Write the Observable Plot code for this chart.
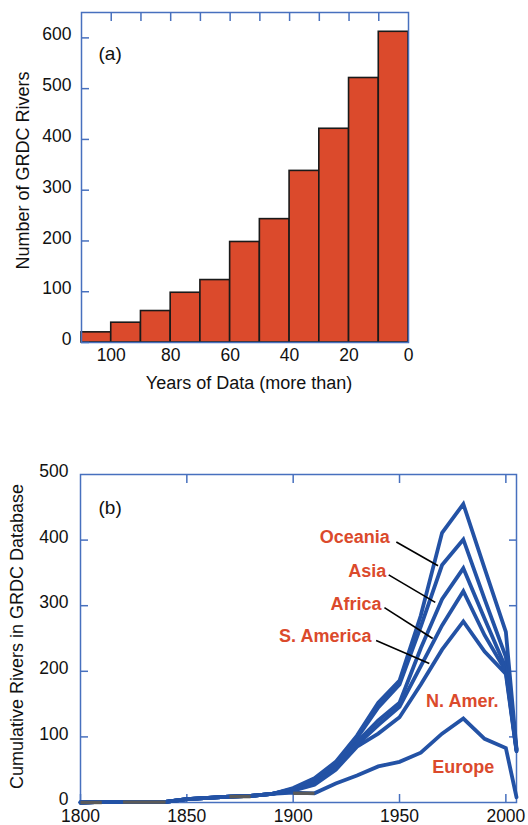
<!DOCTYPE html>
<html>
<head>
<meta charset="utf-8">
<script src="https://cdn.jsdelivr.net/npm/d3@7"></script>
<script src="https://cdn.jsdelivr.net/npm/@observablehq/plot@0.6"></script>
<style>
  body { margin: 0; background: #fff; }
  #chart { width: 528px; }
  #chart svg { display: block; }
</style>
</head>
<body>
<div id="chart"></div>
<script>
// ---- (a) GRDC rivers by length of record ----
const minYears    = [100, 90, 80, 70, 60, 50, 40, 30, 20, 10, 0];
const riverCounts = [20, 39, 62, 98, 123, 198, 243, 338, 421, 521, 612];
const binWidth = 10;
const xLabelTicksA = [100, 80, 60, 40, 20, 0];
const xMarkTicksA  = [100, 90, 80, 70, 60, 50, 40, 30, 20, 10];
const yTicksA      = [0, 100, 200, 300, 400, 500, 600];

// ---- (b) cumulative rivers per decade, stacked by continent ----
const years      = [1800, 1810, 1820, 1830, 1840, 1850, 1860, 1870, 1880, 1890, 1900, 1910, 1920, 1930, 1940, 1950, 1960, 1970, 1980, 1990, 2000, 2005];
const europe     = [0, 1, 1, 1, 1, 5, 7, 9, 10, 13, 15, 14, 29, 41, 55, 62, 76, 105, 128, 97, 83, 8];
const nAmerica   = [0, 1, 1, 1, 1, 5, 7, 9, 10, 13, 18, 27, 50, 85, 105, 130, 180, 233, 276, 230, 196, 78];
const sAmerica   = [0, 1, 1, 1, 1, 5, 7, 9, 10, 13, 19, 30, 54, 88, 118, 146, 208, 270, 322, 255, 200, 79];
const africa     = [0, 1, 1, 1, 1, 5, 7, 9, 10, 13, 20, 32, 57, 92, 125, 152, 235, 310, 357, 280, 205, 80];
const asia       = [0, 1, 1, 1, 1, 5, 7, 9, 10, 13, 21, 35, 60, 98, 145, 180, 268, 362, 401, 310, 222, 81];
const oceania    = [0, 1, 1, 1, 1, 5, 7, 9, 10, 13, 22, 37, 62, 102, 152, 186, 285, 411, 455, 357, 260, 82];
const seriesNames  = ["Europe", "N. Amer.", "S. America", "Africa", "Asia", "Oceania"];
const seriesValues = [europe, nAmerica, sAmerica, africa, asia, oceania];

// early record stretches drawn in grey
const greyFrom  = [1800, 1820, 1870, 1900];
const greyTo    = [1810, 1840, 1880, 1910];
const greyLevel = [0, 0.5, 9, 14];

const xTicksB     = [1800, 1850, 1900, 1950, 2000];
const xMarkTicksB = [1850, 1900, 1950, 2000];
const yTicksB     = [0, 100, 200, 300, 400, 500];
const yMarkTicksB = [100, 200, 300, 400];

// continent labels with leader lines
const leaderNames     = ["Oceania", "Asia", "Africa", "S. America"];
const leaderLabelYear = [1945.4, 1943.8, 1941.5, 1936.8];
const leaderLabelVal  = [404, 352, 302, 254];
const leaderFromYear  = [1948.5, 1944.9, 1942.9, 1939.0];
const leaderFromVal   = [397, 347, 297, 247];
const leaderToYear    = [1968.1, 1966.8, 1965.6, 1964.0];
const leaderToVal     = [361, 305, 250, 212];
const inlineNames     = ["N. Amer.", "Europe"];
const inlineYear      = [1979.5, 1980.0];
const inlineVal       = [155, 54];

const RED = "#db4a2c";
const BLUE_FRAME = "#4770be";
const BLUE_LINE = "#2352a5";
const FONT = "'Liberation Sans', Arial, Helvetica, sans-serif";

const bars = minYears.map((m, i) => ({from: m, to: m + binWidth, rivers: riverCounts[i]}));

const plotA = Plot.plot({
  width: 528,
  height: 410,
  marginLeft: 81,
  marginRight: 120,
  marginTop: 12,
  marginBottom: 68,
  style: {fontFamily: FONT, fontSize: "17.5px", color: "#111", background: "#fff", overflow: "visible"},
  x: {domain: [110, 0]},
  y: {domain: [0, 650]},
  marks: [
    Plot.rectY(bars, {x1: "from", x2: "to", y: "rivers", fill: RED, stroke: "#1a1a1a", strokeWidth: 1.6}),
    Plot.axisX(xMarkTicksA, {anchor: "top", tickSize: -8, fill: "none", stroke: BLUE_FRAME, strokeWidth: 1.5, label: null}),
    Plot.axisX(xLabelTicksA, {anchor: "bottom", tickSize: 0, tickPadding: 6, tickFormat: "d", label: null}),
    Plot.axisY(yTicksA, {anchor: "left", tickSize: -8, fill: "none", stroke: BLUE_FRAME, strokeWidth: 1.5, label: null}),
    Plot.axisY(yTicksA, {anchor: "left", tickSize: 0, tickPadding: 10, tickFormat: "d", label: null, dy: -3}),
    Plot.frame({stroke: BLUE_FRAME, strokeWidth: 1.5}),
    Plot.text(["(a)"], {frameAnchor: "top-left", dx: 17, dy: 41, textAnchor: "start", lineAnchor: "middle", fontSize: 19}),
    Plot.text(["Number of GRDC Rivers"], {frameAnchor: "left", rotate: -90, dx: -58, dy: -7, textAnchor: "middle", lineAnchor: "middle", fontSize: 18}),
    Plot.text(["Years of Data (more than)"], {frameAnchor: "bottom", dx: 4, dy: 41, textAnchor: "middle", lineAnchor: "middle", fontSize: 18})
  ]
});

const rows = [];
seriesNames.forEach((name, s) => {
  years.forEach((yr, i) => rows.push({series: name, year: yr, rivers: seriesValues[s][i]}));
});
const greySegs = greyFrom.map((f, i) => ({from: f, to: greyTo[i], level: greyLevel[i]}));
const leaders = leaderNames.map((n, i) => ({
  name: n, lx: leaderLabelYear[i], ly: leaderLabelVal[i],
  x1: leaderFromYear[i], y1: leaderFromVal[i], x2: leaderToYear[i], y2: leaderToVal[i]
}));
const inline = inlineNames.map((n, i) => ({name: n, x: inlineYear[i], y: inlineVal[i]}));

const plotB = Plot.plot({
  width: 528,
  height: 415,
  marginLeft: 80,
  marginRight: 12,
  marginTop: 64,
  marginBottom: 23,
  style: {fontFamily: FONT, fontSize: "17.5px", color: "#111", background: "#fff", overflow: "visible"},
  x: {domain: [1800, 2005]},
  y: {domain: [0, 500]},
  marks: [
    Plot.axisX(xMarkTicksB, {anchor: "top", tickSize: -8, fill: "none", stroke: BLUE_FRAME, strokeWidth: 1.5, label: null}),
    Plot.axisX(xTicksB, {anchor: "bottom", tickSize: -8, fill: "none", stroke: BLUE_FRAME, strokeWidth: 1.5, label: null}),
    Plot.axisX(xTicksB, {anchor: "bottom", tickSize: 0, tickPadding: 7, tickFormat: "d", label: null}),
    Plot.axisY(yMarkTicksB, {anchor: "left", tickSize: -8, fill: "none", stroke: BLUE_FRAME, strokeWidth: 1.5, label: null}),
    Plot.axisY(yMarkTicksB, {anchor: "right", tickSize: -8, fill: "none", stroke: BLUE_FRAME, strokeWidth: 1.5, label: null}),
    Plot.axisY(yTicksB, {anchor: "left", tickSize: 0, tickPadding: 12, tickFormat: "d", label: null, dy: -3}),
    Plot.frame({stroke: BLUE_FRAME, strokeWidth: 1.5}),
    Plot.line(rows, {x: "year", y: "rivers", z: "series", stroke: BLUE_LINE, strokeWidth: 3.8, strokeLinejoin: "miter", strokeMiterlimit: 6}),
    Plot.link(greySegs, {x1: "from", x2: "to", y1: "level", y2: "level", stroke: "#5a5a5a", strokeWidth: 3.4}),
    Plot.link(leaders, {x1: "x1", y1: "y1", x2: "x2", y2: "y2", stroke: "#000", strokeWidth: 1.6}),
    Plot.text(leaders, {x: "lx", y: "ly", text: "name", textAnchor: "end", fill: RED, fontWeight: "bold", fontSize: 18}),
    Plot.text(inline, {x: "x", y: "y", text: "name", textAnchor: "middle", fill: RED, fontWeight: "bold", fontSize: 18}),
    Plot.text(["(b)"], {frameAnchor: "top-left", dx: 18, dy: 33, textAnchor: "start", lineAnchor: "middle", fontSize: 19}),
    Plot.text(["Cumulative Rivers in GRDC Database"], {frameAnchor: "left", rotate: -90, dx: -63, dy: -2, textAnchor: "middle", lineAnchor: "middle", fontSize: 18})
  ]
});

const chart = document.getElementById("chart");
chart.appendChild(plotA);
chart.appendChild(plotB);
</script>
</body>
</html>
